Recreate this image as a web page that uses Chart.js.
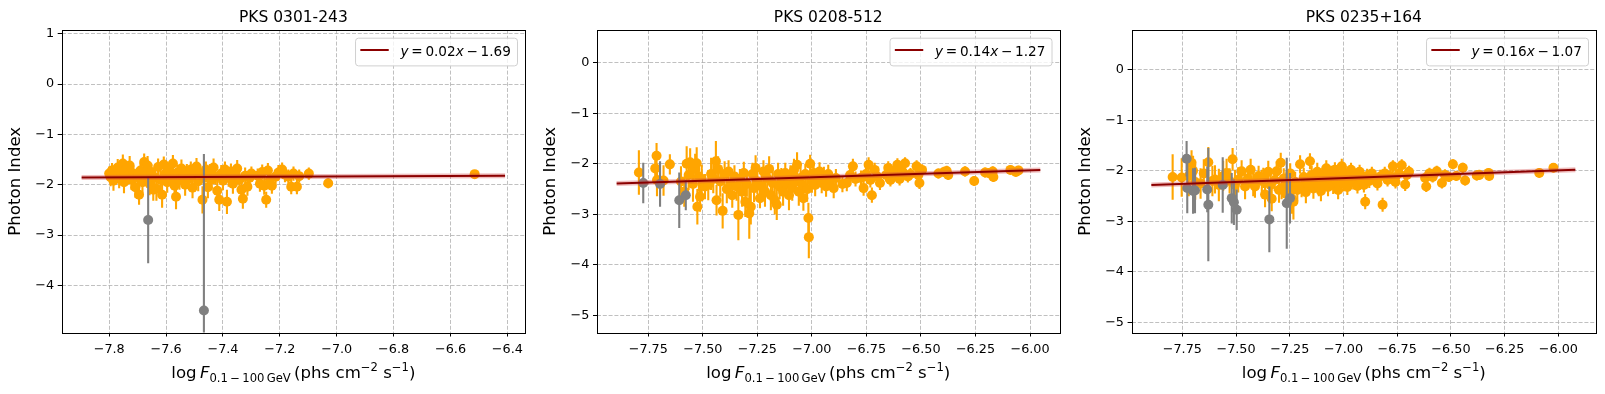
<!DOCTYPE html>
<html>
<head>
<meta charset="utf-8">
<script src="https://cdn.jsdelivr.net/npm/chart.js@4.4.1/dist/chart.umd.min.js"></script>
<style>
  html, body { margin: 0; padding: 0; background: #fff; }
  #wrap { position: relative; width: 1605px; height: 394px; overflow: hidden; }
  canvas { position: absolute; top: 0; }
</style>
</head>
<body>
<div id="wrap">
  <canvas id="c1" width="530" height="394" style="left:0px"></canvas>
  <canvas id="c2" width="535" height="394" style="left:530px"></canvas>
  <canvas id="c3" width="540" height="394" style="left:1065px"></canvas>
</div>
<script>
// ---- PKS 0301-243 ----
const p1Title = 'PKS 0301-243';
const p1X = [-7.800, -7.795, -7.790, -7.785, -7.778, -7.770, -7.765, -7.758, -7.752, -7.748,
  -7.742, -7.735, -7.728, -7.722, -7.715, -7.708, -7.700, -7.695, -7.690, -7.683,
  -7.677, -7.672, -7.665, -7.658, -7.652, -7.645, -7.640, -7.634, -7.628, -7.620,
  -7.614, -7.608, -7.602, -7.596, -7.590, -7.583, -7.576, -7.570, -7.565, -7.560,
  -7.553, -7.546, -7.540, -7.533, -7.527, -7.520, -7.513, -7.507, -7.500, -7.493,
  -7.487, -7.480, -7.472, -7.466, -7.460, -7.453, -7.446, -7.440, -7.433, -7.426,
  -7.420, -7.413, -7.406, -7.400, -7.393, -7.386, -7.380, -7.372, -7.365, -7.357,
  -7.350, -7.342, -7.335, -7.330, -7.322, -7.314, -7.306, -7.300, -7.278, -7.270,
  -7.262, -7.255, -7.248, -7.242, -7.235, -7.228, -7.215, -7.205, -7.192, -7.182,
  -7.170, -7.160, -7.152, -7.140, -7.132, -7.098, -7.030, -6.515];
const p1Y = [-1.78, -1.85, -1.72, -1.92, -1.80, -1.66, -1.88, -1.75, -1.58, -1.95,
  -1.70, -1.82, -1.62, -1.90, -1.78, -2.05, -1.85, -2.20, -1.72, -1.95,
  -1.55, -1.80, -1.62, -1.98, -1.75, -2.10, -1.85, -2.08, -1.65, -1.90,
  -2.20, -1.60, -1.78, -1.95, -1.72, -1.86, -1.58, -2.02, -2.24, -1.76,
  -1.90, -1.68, -1.84, -2.00, -1.74, -1.88, -1.70, -2.06, -1.82, -1.64,
  -1.93, -1.78, -2.30, -1.86, -1.70, -2.05, -1.76, -1.90, -1.66, -1.84,
  -2.12, -2.30, -1.78, -1.92, -1.70, -2.34, -1.86, -1.74, -1.98, -1.80,
  -1.68, -1.90, -2.10, -2.28, -1.82, -2.04, -1.86, -1.78, -1.82, -1.98,
  -1.75, -2.02, -2.30, -1.72, -1.90, -2.02, -1.84, -1.76, -1.70, -1.80,
  -1.84, -2.04, -1.78, -2.04, -1.83, -1.78, -1.97, -1.79];
const p1Err = [0.14, 0.18, 0.15, 0.20, 0.16, 0.17, 0.19, 0.15, 0.18, 0.22,
  0.16, 0.17, 0.19, 0.20, 0.15, 0.21, 0.18, 0.20, 0.16, 0.22,
  0.17, 0.15, 0.19, 0.23, 0.16, 0.22, 0.20, 0.24, 0.17, 0.19,
  0.26, 0.16, 0.18, 0.21, 0.15, 0.19, 0.17, 0.20, 0.25, 0.16,
  0.20, 0.18, 0.17, 0.22, 0.15, 0.19, 0.16, 0.21, 0.18, 0.17,
  0.20, 0.16, 0.27, 0.19, 0.16, 0.22, 0.17, 0.20, 0.18, 0.16,
  0.23, 0.22, 0.17, 0.19, 0.16, 0.24, 0.18, 0.16, 0.20, 0.15,
  0.17, 0.19, 0.21, 0.20, 0.16, 0.18, 0.15, 0.14, 0.14, 0.16,
  0.15, 0.18, 0.16, 0.15, 0.17, 0.16, 0.14, 0.15, 0.14, 0.15,
  0.14, 0.15, 0.14, 0.15, 0.13, 0.12, 0.10, 0.08];
const p1GreyX = [-7.663, -7.467];
const p1GreyY = [-2.70, -4.50];
const p1GreyErr = [0.86, 3.11];
const p1FitX = [-7.897, -6.408];
const p1FitY = [-1.857, -1.823];
const p1Coef = [0.02, -1.69];
const p1XTicks = [-7.8, -7.6, -7.4, -7.2, -7.0, -6.8, -6.6, -6.4];
const p1XTickLabels = ['\u22127.8', '\u22127.6', '\u22127.4', '\u22127.2', '\u22127.0', '\u22126.8', '\u22126.6', '\u22126.4'];
const p1YTicks = [1, 0, -1, -2, -3, -4];
const p1YTickLabels = ['1', '0', '\u22121', '\u22122', '\u22123', '\u22124'];

// ---- PKS 0208-512 ----
const p2Title = 'PKS 0208-512';
const p2X = [-7.793, -7.718, -7.712, -7.710, -7.680, -7.651, -7.600, -7.585, -7.574, -7.565,
  -7.558, -7.545, -7.535, -7.528, -7.525, -7.518, -7.513, -7.505, -7.490, -7.475,
  -7.462, -7.452, -7.440, -7.437, -7.430, -7.420, -7.409, -7.400, -7.390, -7.382,
  -7.372, -7.365, -7.355, -7.345, -7.337, -7.330, -7.320, -7.312, -7.305, -7.298,
  -7.287, -7.280, -7.272, -7.265, -7.258, -7.250, -7.238, -7.230, -7.222, -7.215,
  -7.205, -7.196, -7.188, -7.180, -7.170, -7.161, -7.155, -7.148, -7.140, -7.132,
  -7.122, -7.115, -7.105, -7.098, -7.090, -7.082, -7.075, -7.068, -7.060, -7.052,
  -7.045, -7.039, -7.030, -7.022, -7.016, -7.014, -7.008, -7.000, -6.992, -6.985,
  -6.975, -6.965, -6.955, -6.945, -6.935, -6.925, -6.915, -6.900, -6.890, -6.860,
  -6.840, -6.825, -6.812, -6.800, -6.775, -6.763, -6.752, -6.740, -6.732, -6.725,
  -6.712, -6.700, -6.688, -6.660, -6.650, -6.640, -6.625, -6.608, -6.598, -6.585,
  -6.573, -6.560, -6.548, -6.520, -6.512, -6.507, -6.495, -6.420, -6.395, -6.382,
  -6.375, -6.298, -6.256, -6.206, -6.190, -6.171, -6.168, -6.090, -6.065, -6.053];
const p2Y = [-2.17, -2.09, -1.84, -2.32, -2.33, -2.01, -2.35, -2.55, -2.00, -2.22,
  -1.97, -2.40, -2.10, -1.99, -2.85, -2.25, -2.65, -2.30, -2.45, -2.42,
  -2.20, -2.30, -1.95, -2.72, -2.10, -2.35, -2.93, -2.20, -2.50, -2.15,
  -2.40, -2.62, -2.25, -2.45, -3.01, -2.30, -2.55, -2.18, -2.75, -2.40,
  -2.98, -2.85, -2.20, -2.48, -2.08, -2.35, -2.68, -2.45, -2.15, -2.55,
  -2.28, -2.10, -2.62, -2.38, -2.72, -2.81, -2.20, -2.45, -2.30, -2.55,
  -2.18, -2.40, -2.62, -2.25, -2.48, -2.12, -2.35, -2.02, -2.55, -2.28,
  -2.42, -2.68, -2.20, -2.50, -3.07, -3.45, -2.00, -2.35, -2.18, -2.42,
  -2.28, -2.15, -2.38, -2.24, -2.45, -2.20, -2.32, -2.48, -2.28, -2.40,
  -2.38, -2.22, -2.05, -2.30, -2.28, -2.48, -2.20, -2.02, -2.32, -2.62,
  -2.12, -2.25, -2.38, -2.22, -2.08, -2.32, -2.18, -2.02, -2.30, -2.15,
  -1.99, -2.25, -2.20, -2.05, -2.22, -2.38, -2.12, -2.19, -2.16, -2.14,
  -2.22, -2.15, -2.34, -2.17, -2.18, -2.15, -2.26, -2.12, -2.16, -2.13];
const p2Err = [0.44, 0.30, 0.25, 0.32, 0.30, 0.20, 0.30, 0.30, 0.35, 0.30,
  0.28, 0.35, 0.30, 0.32, 0.35, 0.30, 0.30, 0.28, 0.25, 0.30,
  0.32, 0.28, 0.40, 0.30, 0.25, 0.30, 0.35, 0.25, 0.28, 0.22,
  0.30, 0.25, 0.22, 0.28, 0.50, 0.20, 0.30, 0.22, 0.30, 0.25,
  0.50, 0.35, 0.22, 0.28, 0.25, 0.25, 0.20, 0.28, 0.22, 0.30,
  0.22, 0.25, 0.30, 0.25, 0.28, 0.30, 0.22, 0.25, 0.22, 0.28,
  0.20, 0.25, 0.30, 0.22, 0.25, 0.22, 0.25, 0.25, 0.28, 0.22,
  0.25, 0.25, 0.20, 0.25, 0.30, 0.42, 0.18, 0.22, 0.20, 0.22,
  0.20, 0.18, 0.20, 0.18, 0.20, 0.18, 0.18, 0.20, 0.18, 0.16,
  0.16, 0.15, 0.15, 0.15, 0.15, 0.15, 0.14, 0.15, 0.15, 0.15,
  0.14, 0.14, 0.14, 0.13, 0.13, 0.13, 0.12, 0.13, 0.13, 0.12,
  0.12, 0.12, 0.12, 0.12, 0.12, 0.12, 0.11, 0.10, 0.10, 0.10,
  0.10, 0.10, 0.10, 0.10, 0.10, 0.10, 0.10, 0.09, 0.09, 0.09];
const p2GreyX = [-7.773, -7.696, -7.608, -7.578];
const p2GreyY = [-2.38, -2.40, -2.72, -2.62];
const p2GreyErr = [0.40, 0.45, 0.55, 0.30];
const p2FitX = [-7.895, -5.953];
const p2FitY = [-2.39, -2.12];
const p2Coef = [0.14, -1.27];
const p2XTicks = [-7.75, -7.5, -7.25, -7.0, -6.75, -6.5, -6.25, -6.0];
const p2XTickLabels = ['\u22127.75', '\u22127.50', '\u22127.25', '\u22127.00', '\u22126.75', '\u22126.50', '\u22126.25', '\u22126.00'];
const p2YTicks = [0, -1, -2, -3, -4, -5];
const p2YTickLabels = ['0', '\u22121', '\u22122', '\u22123', '\u22124', '\u22125'];

// ---- PKS 0235+164 ----
const p3Title = 'PKS 0235+164';
const p3X = [-7.795, -7.753, -7.720, -7.707, -7.700, -7.690, -7.665, -7.650, -7.629, -7.610,
  -7.598, -7.580, -7.560, -7.544, -7.530, -7.516, -7.505, -7.490, -7.474, -7.458,
  -7.445, -7.432, -7.420, -7.412, -7.395, -7.380, -7.373, -7.365, -7.350, -7.340,
  -7.334, -7.320, -7.311, -7.300, -7.292, -7.288, -7.278, -7.268, -7.258, -7.248,
  -7.240, -7.233, -7.225, -7.215, -7.202, -7.195, -7.185, -7.175, -7.165, -7.156,
  -7.148, -7.140, -7.130, -7.122, -7.115, -7.105, -7.098, -7.090, -7.080, -7.072,
  -7.065, -7.055, -7.048, -7.040, -7.032, -7.025, -7.015, -7.008, -7.000, -6.990,
  -6.982, -6.975, -6.965, -6.955, -6.945, -6.935, -6.925, -6.915, -6.905, -6.899,
  -6.890, -6.880, -6.868, -6.855, -6.842, -6.829, -6.818, -6.808, -6.795, -6.782,
  -6.770, -6.758, -6.742, -6.729, -6.713, -6.705, -6.695, -6.620, -6.615, -6.600,
  -6.585, -6.566, -6.542, -6.528, -6.510, -6.491, -6.475, -6.445, -6.434, -6.380,
  -6.368, -6.325, -6.322, -6.089, -6.023];
const p3Y = [-2.12, -2.13, -2.10, -1.84, -2.00, -2.22, -2.25, -2.05, -1.83, -2.20,
  -2.17, -2.28, -2.10, -2.04, -2.20, -1.77, -2.28, -2.18, -2.01, -2.31,
  -2.15, -1.98, -2.25, -2.31, -2.10, -2.20, -2.14, -2.47, -2.02, -2.28,
  -2.55, -2.18, -2.01, -2.38, -1.84, -2.34, -2.15, -2.45, -2.28, -2.05,
  -2.55, -2.61, -2.22, -2.38, -1.87, -2.30, -2.12, -2.42, -2.25, -1.81,
  -2.08, -2.35, -2.18, -2.02, -2.30, -2.40, -2.10, -2.22, -1.95, -2.32,
  -2.15, -2.05, -2.28, -1.98, -2.20, -2.38, -2.10, -1.91, -2.25, -2.05,
  -2.32, -2.15, -1.98, -2.22, -2.10, -2.30, -2.02, -2.18, -2.28, -2.61,
  -2.10, -2.20, -2.05, -2.15, -2.25, -2.11, -2.67, -2.05, -2.18, -2.10,
  -1.91, -2.22, -2.05, -1.89, -2.27, -2.08, -2.02, -2.14, -2.31, -2.05,
  -2.12, -2.01, -2.24, -2.08, -2.12, -1.87, -2.10, -1.94, -2.19, -2.09,
  -2.08, -2.04, -2.10, -2.04, -1.94];
const p3Err = [0.45, 0.38, 0.40, 0.25, 0.30, 0.35, 0.30, 0.28, 0.30, 0.30,
  0.28, 0.32, 0.30, 0.28, 0.25, 0.22, 0.30, 0.25, 0.22, 0.25,
  0.22, 0.22, 0.25, 0.22, 0.20, 0.22, 0.20, 0.25, 0.22, 0.25,
  0.25, 0.22, 0.20, 0.25, 0.20, 0.22, 0.20, 0.25, 0.22, 0.20,
  0.30, 0.35, 0.20, 0.22, 0.18, 0.22, 0.18, 0.22, 0.20, 0.16,
  0.18, 0.20, 0.18, 0.18, 0.20, 0.20, 0.16, 0.18, 0.16, 0.18,
  0.16, 0.15, 0.18, 0.15, 0.16, 0.18, 0.15, 0.15, 0.16, 0.15,
  0.16, 0.15, 0.14, 0.15, 0.14, 0.15, 0.14, 0.14, 0.15, 0.15,
  0.14, 0.14, 0.13, 0.13, 0.14, 0.13, 0.14, 0.13, 0.13, 0.12,
  0.12, 0.13, 0.12, 0.12, 0.13, 0.12, 0.12, 0.11, 0.11, 0.11,
  0.11, 0.11, 0.11, 0.11, 0.10, 0.10, 0.10, 0.10, 0.10, 0.10,
  0.10, 0.09, 0.09, 0.09, 0.09];
const p3GreyX = [-7.730, -7.727, -7.700, -7.691, -7.634, -7.629, -7.562, -7.520, -7.510, -7.497, -7.345, -7.264, -7.249];
const p3GreyY = [-1.76, -2.34, -2.40, -2.39, -2.37, -2.67, -2.28, -2.54, -2.62, -2.77, -2.96, -2.64, -2.54];
const p3GreyErr = [0.35, 0.50, 0.45, 0.45, 0.45, 1.12, 0.55, 0.50, 0.45, 0.40, 0.65, 0.90, 0.50];
const p3FitX = [-7.894, -5.921];
const p3FitY = [-2.28, -1.98];
const p3Coef = [0.16, -1.07];
const p3XTicks = [-7.75, -7.5, -7.25, -7.0, -6.75, -6.5, -6.25, -6.0];
const p3XTickLabels = ['\u22127.75', '\u22127.50', '\u22127.25', '\u22127.00', '\u22126.75', '\u22126.50', '\u22126.25', '\u22126.00'];
const p3YTicks = [0, -1, -2, -3, -4, -5];
const p3YTickLabels = ['0', '\u22121', '\u22122', '\u22123', '\u22124', '\u22125'];

const FONT = "'DejaVu Sans', sans-serif";
Chart.defaults.font.family = FONT;
Chart.defaults.color = '#000';

function toPoints(xs, ys) {
  return xs.map((v, i) => ({x: v, y: ys[i]}));
}

function drawSegments(ctx, segs, x, base) {
  // each seg: text, size, italic, dy
  let cx = x;
  segs.forEach(s => {
    ctx.font = (s.it ? 'italic ' : '') + s.size + 'px ' + FONT;
    ctx.fillText(s.t, cx, base + (s.dy || 0));
    cx += ctx.measureText(s.t).width;
  });
  return cx - x;
}

function segWidth(ctx, segs) {
  let w = 0;
  segs.forEach(s => {
    ctx.font = (s.it ? 'italic ' : '') + s.size + 'px ' + FONT;
    w += ctx.measureText(s.t).width;
  });
  return w;
}

function makePanel(p) {
  const errorBars = {
    id: 'errorBars',
    beforeDatasetDraw(chart, args) {
      const ds = chart.data.datasets[args.index];
      if (!ds.yErr) return;
      const {ctx, chartArea: a, scales: {x, y}} = chart;
      ctx.save();
      ctx.beginPath();
      ctx.rect(a.left, a.top, a.right - a.left, a.bottom - a.top);
      ctx.clip();
      ctx.strokeStyle = ds.backgroundColor;
      ctx.lineWidth = 2.1;
      ds.data.forEach((pt, i) => {
        const px = x.getPixelForValue(pt.x);
        ctx.beginPath();
        ctx.moveTo(px, y.getPixelForValue(pt.y - ds.yErr[i]));
        ctx.lineTo(px, y.getPixelForValue(pt.y + ds.yErr[i]));
        ctx.stroke();
      });
      ctx.restore();
    }
  };

  const decorations = {
    id: 'decorations',
    afterDraw(chart) {
      const {ctx, chartArea: a} = chart;
      ctx.save();
      // frame
      ctx.strokeStyle = '#000';
      ctx.lineWidth = 1;
      ctx.strokeRect(Math.round(a.left) + 0.5, Math.round(a.top) + 0.5,
        Math.round(a.right) - Math.round(a.left), Math.round(a.bottom) - Math.round(a.top));

      const mid = (a.left + a.right) / 2;
      // title
      ctx.fillStyle = '#000';
      ctx.textAlign = 'center';
      ctx.textBaseline = 'alphabetic';
      ctx.font = '15.5px ' + FONT;
      ctx.fillText(p.title, mid, 22);

      // x label, mathtext style
      ctx.textAlign = 'left';
      const big = 16.6, small = 11.6;
      const segs = [
        {t: 'log\u2009', size: big},
        {t: 'F', size: big, it: true},
        {t: '0.1\u2009\u2212\u2009100\u2009GeV', size: small, dy: 4.2},
        {t: '\u2009(phs cm', size: big},
        {t: '\u22122', size: small, dy: -7},
        {t: ' s', size: big},
        {t: '\u22121', size: small, dy: -7},
        {t: ')', size: big}
      ];
      const w = segWidth(ctx, segs);
      drawSegments(ctx, segs, mid - w / 2, 378);

      // legend
      const fs = 13.6;
      const slope = p.coef[0].toFixed(2);
      const icpt = Math.abs(p.coef[1]).toFixed(2);
      const sign = p.coef[1] < 0 ? '\u2212' : '+';
      const lsegs = [
        {t: 'y', size: fs, it: true},
        {t: '\u2009=\u2009' + slope, size: fs},
        {t: 'x', size: fs, it: true},
        {t: '\u2009' + sign + '\u2009' + icpt, size: fs}
      ];
      const tw = segWidth(ctx, lsegs);
      const bw = 45 + tw + 6.7, bh = 27.7;
      const bx = a.right - 7.5 - bw, by = a.top + 8.2;
      ctx.beginPath();
      ctx.roundRect(bx, by, bw, bh, 3);
      ctx.fillStyle = 'rgba(255,255,255,0.8)';
      ctx.fill();
      ctx.strokeStyle = '#d0d0d0';
      ctx.lineWidth = 1;
      ctx.stroke();
      ctx.beginPath();
      ctx.moveTo(bx + 4.8, by + 11.8);
      ctx.lineTo(bx + 33.2, by + 11.8);
      ctx.strokeStyle = '#8b0000';
      ctx.lineWidth = 2;
      ctx.stroke();
      ctx.fillStyle = '#000';
      drawSegments(ctx, lsegs, bx + 45, by + 17.6);
      ctx.restore();
    }
  };

  const fit = toPoints(p.fitX, p.fitY);

  return new Chart(document.getElementById(p.id), {
    type: 'scatter',
    data: {
      datasets: [
        {data: toPoints(p.x, p.y), yErr: p.err, backgroundColor: '#ffa500',
          pointRadius: 5, borderWidth: 0, order: 4},
        {data: toPoints(p.greyX, p.greyY), yErr: p.greyErr, backgroundColor: '#808080',
          pointRadius: 5, borderWidth: 0, order: 3},
        {data: fit, showLine: true, borderColor: 'rgba(210,70,70,0.35)', borderWidth: 5,
          pointRadius: 0, order: 2},
        {data: fit, showLine: true, borderColor: '#8b0000', borderWidth: 2,
          pointRadius: 0, order: 1}
      ]
    },
    options: {
      responsive: false,
      animation: false,
      events: [],
      devicePixelRatio: 1,
      layout: {padding: {left: 0, right: p.padRight, top: 30, bottom: 0}},
      plugins: {legend: {display: false}, tooltip: {enabled: false}},
      scales: {
        x: {
          type: 'linear',
          min: p.xMin, max: p.xMax,
          afterBuildTicks: s => { s.ticks = p.xTicks.map(v => ({value: v})); },
          afterFit: s => { s.height = 61.5; },
          ticks: {
            autoSkip: false, maxRotation: 0, padding: 5.5,
            font: {size: 12.8},
            callback: (v, i) => p.xTickLabels[i]
          },
          grid: {color: '#b0b0b0', lineWidth: 0.8, tickColor: '#000', tickWidth: 1, tickLength: 4},
          border: {display: false, dash: [4, 1.8]}
        },
        y: {
          type: 'linear',
          min: p.yMin, max: p.yMax,
          afterBuildTicks: s => { s.ticks = p.yTicks.map(v => ({value: v})); },
          afterFit: s => { s.width = p.yAxisW; },
          ticks: {
            autoSkip: false, padding: 3.6,
            font: {size: 12.8},
            callback: (v, i) => p.yTickLabels[i]
          },
          grid: {color: '#b0b0b0', lineWidth: 0.8, tickColor: '#000', tickWidth: 1, tickLength: 4},
          border: {display: false, dash: [4, 1.8]},
          title: {display: true, text: 'Photon Index', font: {size: 16.6},
            padding: {top: p.yTitleX - 9.96, bottom: 0}}
        }
      }
    },
    plugins: [errorBars, decorations]
  });
}

makePanel({id: 'c1', title: p1Title, x: p1X, y: p1Y, err: p1Err,
  greyX: p1GreyX, greyY: p1GreyY, greyErr: p1GreyErr, fitX: p1FitX, fitY: p1FitY, coef: p1Coef,
  xTicks: p1XTicks, xTickLabels: p1XTickLabels, yTicks: p1YTicks, yTickLabels: p1YTickLabels,
  xMin: -7.967, xMax: -6.338, yMin: -4.936, yMax: 1.073,
  yAxisW: 61.7, padRight: 3.6, yTitleX: 15.2});

makePanel({id: 'c2', title: p2Title, x: p2X, y: p2Y, err: p2Err,
  greyX: p2GreyX, greyY: p2GreyY, greyErr: p2GreyErr, fitX: p2FitX, fitY: p2FitY, coef: p2Coef,
  xTicks: p2XTicks, xTickLabels: p2XTickLabels, yTicks: p2YTicks, yTickLabels: p2YTickLabels,
  xMin: -7.985, xMax: -5.865, yMin: -5.337, yMax: 0.648,
  yAxisW: 67.0, padRight: 5.5, yTitleX: 20.3});

makePanel({id: 'c3', title: p3Title, x: p3X, y: p3Y, err: p3Err,
  greyX: p3GreyX, greyY: p3GreyY, greyErr: p3GreyErr, fitX: p3FitX, fitY: p3FitY, coef: p3Coef,
  xTicks: p3XTicks, xTickLabels: p3XTickLabels, yTicks: p3YTicks, yTickLabels: p3YTickLabels,
  xMin: -7.986, xMax: -5.825, yMin: -5.198, yMax: 0.787,
  yAxisW: 66.6, padRight: 9, yTitleX: 20.4});
</script>
</body>
</html>
